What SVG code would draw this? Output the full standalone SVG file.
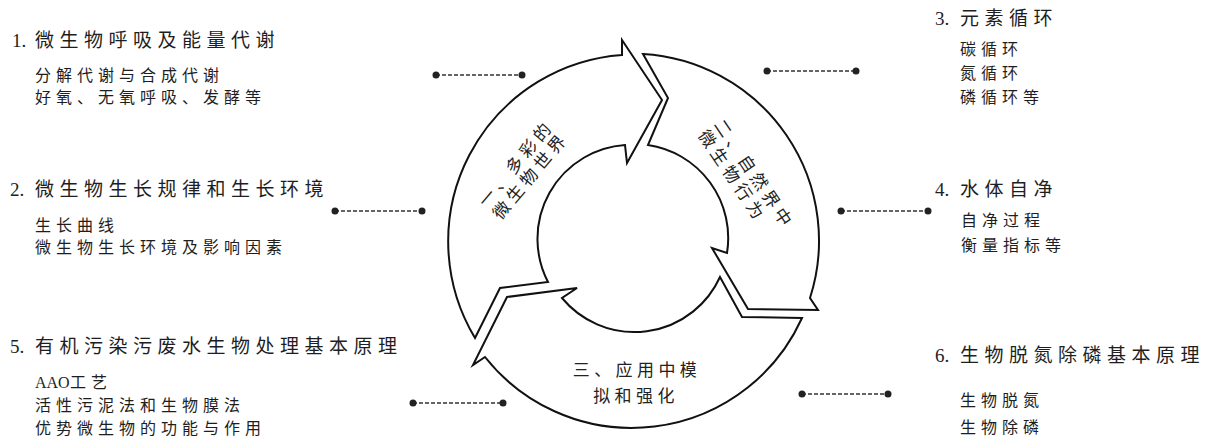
<svg xmlns="http://www.w3.org/2000/svg" width="1209" height="447" viewBox="0 0 1209 447">
<style>
.bg{fill:#fff}
.seg{fill:#fff;stroke:#111;stroke-width:2;stroke-linejoin:miter}
.t{font-family:"Liberation Serif","Noto Sans CJK SC",serif;fill:#1e1e1e}
.ti{font-size:19px;letter-spacing:5.5px}
.sb{font-size:16px;letter-spacing:5px}
.num{letter-spacing:0}
.rt{font-family:"Noto Sans CJK SC",sans-serif;font-size:17px;letter-spacing:4.4px;fill:#222}
.dl{stroke:#333;stroke-width:1.3;stroke-dasharray:4 2;fill:none}
.dot{fill:#222}
</style>
<rect class="bg" x="0" y="0" width="1209" height="447"/>
<g id="cycle">
  <g id="seg1">
    <path class="seg" d="M475,338 L500,288 L548,282 A94,94 0 0 1 625,145 L627,163 L662,100 L622,40 L622,55 A187,187 0 0 0 475,338 Z"/>
    <g transform="translate(522,171) rotate(-50)">
      <text class="rt" x="2" y="-3.5" text-anchor="middle">一、多彩的</text>
      <text class="rt" x="2" y="15.5" text-anchor="middle">微生物世界</text>
    </g>
  </g>
  <g id="seg2">
    <path class="seg" d="M643,54 L668,98 L648,145 A94,94 0 0 1 727,253 L712,248 L748,309 L818,310 L810,298 A187,187 0 0 0 643,54 Z"/>
    <g transform="translate(745,178) rotate(56)">
      <text class="rt" x="-62" y="-3.5">二、自然界中</text>
      <text class="rt" x="-62" y="15.5">微生物行为</text>
    </g>
  </g>
  <g id="seg3">
    <path class="seg" d="M802,318 L742,317 L720,277 A94,94 0 0 1 562,298 L577,288 L507,297 L473,365 L485,357 A187,187 0 0 0 802,318 Z"/>
    <text class="rt" x="637" y="376" text-anchor="middle">三、应用中模</text>
    <text class="rt" x="636" y="402" text-anchor="middle">拟和强化</text>
  </g>
</g>
<g id="connectors">
  <line class="dl" x1="436" y1="75" x2="522" y2="75"/><circle class="dot" cx="436" cy="75" r="3.5"/><circle class="dot" cx="522" cy="75" r="3.5"/>
  <line class="dl" x1="335" y1="211" x2="422" y2="211"/><circle class="dot" cx="335" cy="211" r="3.5"/><circle class="dot" cx="422" cy="211" r="3.5"/>
  <line class="dl" x1="767" y1="71" x2="856" y2="71"/><circle class="dot" cx="767" cy="71" r="3.5"/><circle class="dot" cx="856" cy="71" r="3.5"/>
  <line class="dl" x1="841" y1="211" x2="928" y2="211"/><circle class="dot" cx="841" cy="211" r="3.5"/><circle class="dot" cx="928" cy="211" r="3.5"/>
  <line class="dl" x1="413" y1="403" x2="503" y2="403"/><circle class="dot" cx="413" cy="403" r="3.5"/><circle class="dot" cx="503" cy="403" r="3.5"/>
  <line class="dl" x1="802" y1="394" x2="888" y2="394"/><circle class="dot" cx="802" cy="394" r="3.5"/><circle class="dot" cx="888" cy="394" r="3.5"/>
</g>
<g id="node1">
  <text class="t ti" y="47"><tspan class="num" x="12">1.</tspan><tspan x="35">微生物呼吸及能量代谢</tspan></text>
  <text class="t sb" x="35" y="81">分解代谢与合成代谢</text>
  <text class="t sb" x="35" y="103">好氧、无氧呼吸、发酵等</text>
</g>
<g id="node2">
  <text class="t ti" y="196"><tspan class="num" x="10">2.</tspan><tspan x="35">微生物生长规律和生长环境</tspan></text>
  <text class="t sb" x="35" y="231">生长曲线</text>
  <text class="t sb" x="35" y="253">微生物生长环境及影响因素</text>
</g>
<g id="node3">
  <text class="t ti" y="25"><tspan class="num" x="935">3.</tspan><tspan x="960">元素循环</tspan></text>
  <text class="t sb" x="960" y="55">碳循环</text>
  <text class="t sb" x="960" y="79">氮循环</text>
  <text class="t sb" x="960" y="103">磷循环等</text>
</g>
<g id="node4">
  <text class="t ti" y="196"><tspan class="num" x="935">4.</tspan><tspan x="960">水体自净</tspan></text>
  <text class="t sb" x="961" y="226">自净过程</text>
  <text class="t sb" x="961" y="251">衡量指标等</text>
</g>
<g id="node5">
  <text class="t ti" y="353"><tspan class="num" x="10">5.</tspan><tspan x="35">有机污染污废水生物处理基本原理</tspan></text>
  <text class="t sb" x="35" y="388"><tspan class="num">AAO</tspan><tspan x="70">工艺</tspan></text>
  <text class="t sb" x="35" y="411">活性污泥法和生物膜法</text>
  <text class="t sb" x="35" y="434">优势微生物的功能与作用</text>
</g>
<g id="node6">
  <text class="t ti" y="362"><tspan class="num" x="935">6.</tspan><tspan x="960">生物脱氮除磷基本原理</tspan></text>
  <text class="t sb" x="960" y="406">生物脱氮</text>
  <text class="t sb" x="960" y="433">生物除磷</text>
</g>
</svg>
